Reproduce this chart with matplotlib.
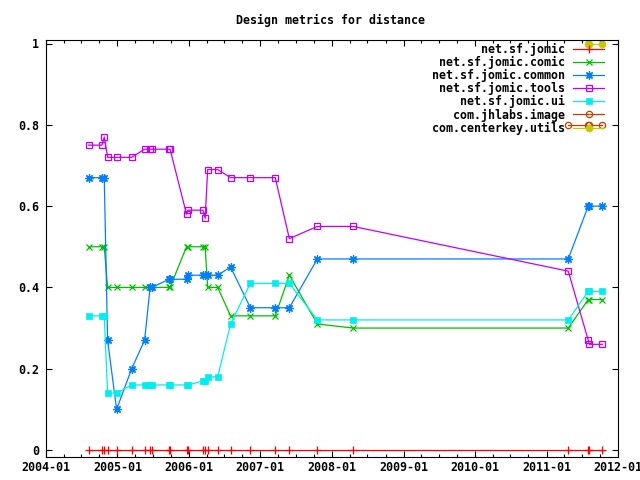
import matplotlib
matplotlib.use("Agg")
import matplotlib.pyplot as plt
import matplotlib.dates as mdates
import numpy as np
from datetime import datetime

dates = ["2004-08-07", "2004-10-14", "2004-10-26", "2004-11-12", "2004-12-28",
         "2005-03-15", "2005-05-20", "2005-06-17", "2005-06-26", "2005-09-22",
         "2005-09-27", "2005-12-20", "2005-12-27", "2006-03-14", "2006-03-25",
         "2006-04-07", "2006-05-28", "2006-08-02", "2006-11-11", "2007-03-18",
         "2007-05-29", "2007-10-19", "2008-04-19", "2011-04-22", "2011-08-02",
         "2011-08-08", "2011-10-13"]

jomic = [0.0] * 27
comic = [0.50, 0.50, 0.50, 0.40, 0.40, 0.40, 0.40, 0.40, 0.40, 0.40,
         0.40, 0.50, 0.50, 0.50, 0.50, 0.40, 0.40, 0.33, 0.33, 0.33,
         0.43, 0.31, 0.30, 0.30, 0.37, 0.37, 0.37]
common = [0.67, 0.67, 0.67, 0.27, 0.10, 0.20, 0.27, 0.40, 0.40, 0.42,
          0.42, 0.42, 0.43, 0.43, 0.43, 0.43, 0.43, 0.45, 0.35, 0.35,
          0.35, 0.47, 0.47, 0.47, 0.60, 0.60, 0.60]
tools = [0.75, 0.75, 0.77, 0.72, 0.72, 0.72, 0.74, 0.74, 0.74, 0.74,
         0.74, 0.58, 0.59, 0.59, 0.57, 0.69, 0.69, 0.67, 0.67, 0.67,
         0.52, 0.55, 0.55, 0.44, 0.27, 0.26, 0.26]
ui = [0.33, 0.33, 0.33, 0.14, 0.14, 0.16, 0.16, 0.16, 0.16, 0.16,
      0.16, 0.16, 0.16, 0.17, 0.17, 0.18, 0.18, 0.31, 0.41, 0.41,
      0.41, 0.32, 0.32, 0.32, 0.39, 0.39, 0.39]

jhlabs_dates = ["2011-04-22", "2011-08-02", "2011-08-08", "2011-10-13"]
jhlabs = [0.80, 0.80, 0.80, 0.80]
centerkey_dates = ["2011-08-02", "2011-08-08", "2011-10-13"]
centerkey = [1.0, 1.0, 1.0]


def to_dt(lst):
    return [datetime.strptime(d, "%Y-%m-%d") for d in lst]


plt.rcParams['font.family'] = 'DejaVu Sans Mono'
plt.rcParams['font.weight'] = 'bold'
plt.rcParams['font.size'] = 8.4

fig = plt.figure(figsize=(6.4, 4.8), dpi=100)
ax = fig.add_axes([45.7 / 640, 1 - 457 / 480, (618 - 45.7) / 640, (457 - 40) / 480])

x = to_dt(dates)
lw = 0.9
ax.plot(x, jomic, color="#ff0000", lw=lw, marker="+", ms=6, mew=0.9, label="net.sf.jomic")
ax.plot(x, comic, color="#00c000", lw=lw, marker="x", ms=5, mew=0.9, label="net.sf.jomic.comic")
ax.plot(x, common, color="#0080ff", lw=lw, marker=(8, 2, 0), ms=6, mew=0.9, label="net.sf.jomic.common")
ax.plot(x, tools, color="#c000ff", lw=lw, marker="s", ms=4.5, mew=0.9, mfc="none", label="net.sf.jomic.tools")
ax.plot(x, ui, color="#00eeee", lw=lw, marker="s", ms=5, mew=0.5, label="net.sf.jomic.ui")
ax.plot(to_dt(jhlabs_dates), jhlabs, color="#c04000", lw=lw, marker="o", ms=4.5, mew=0.9, mfc="none",
        label="com.jhlabs.image")
ax.plot(to_dt(centerkey_dates), centerkey, color="#c8c800", lw=lw, marker="o", ms=5, mew=0.5,
        label="com.centerkey.utils")

ax.set_xlim(datetime(2004, 1, 1), datetime(2012, 1, 1))
ax.set_ylim(-7 / 406.5, 1 + 3.5 / 406.5)
ax.set_yticks([0, 0.2, 0.4, 0.6, 0.8, 1.0])
ax.yaxis.set_major_formatter(plt.FuncFormatter(lambda v, p: "%g" % v))
ax.xaxis.set_major_locator(mdates.YearLocator())
ax.xaxis.set_minor_locator(mdates.MonthLocator(bymonth=[1, 4, 7, 10]))
ax.xaxis.set_major_formatter(mdates.DateFormatter("%Y-%m"))
ax.tick_params(which="both", direction="in", top=True, right=True, width=0.8)
ax.tick_params(which="major", length=4, pad=5)
ax.tick_params(axis="x", which="major", pad=3)
ax.tick_params(which="minor", length=2)
ax.tick_params(axis="y", which="minor", left=False, right=False)
for s in ax.spines.values():
    s.set_linewidth(0.8)

ax.legend(loc="upper right", bbox_to_anchor=(0.9764, 0.9928), frameon=False, markerfirst=False,
          handlelength=2.7, handletextpad=0.7, labelspacing=0.0, borderaxespad=0.0, borderpad=0.0)

fig.text(331 / 640, 1 - 20 / 480, "Design metrics for distance", ha="center", va="center")

fig.savefig("out.png", dpi=100)
